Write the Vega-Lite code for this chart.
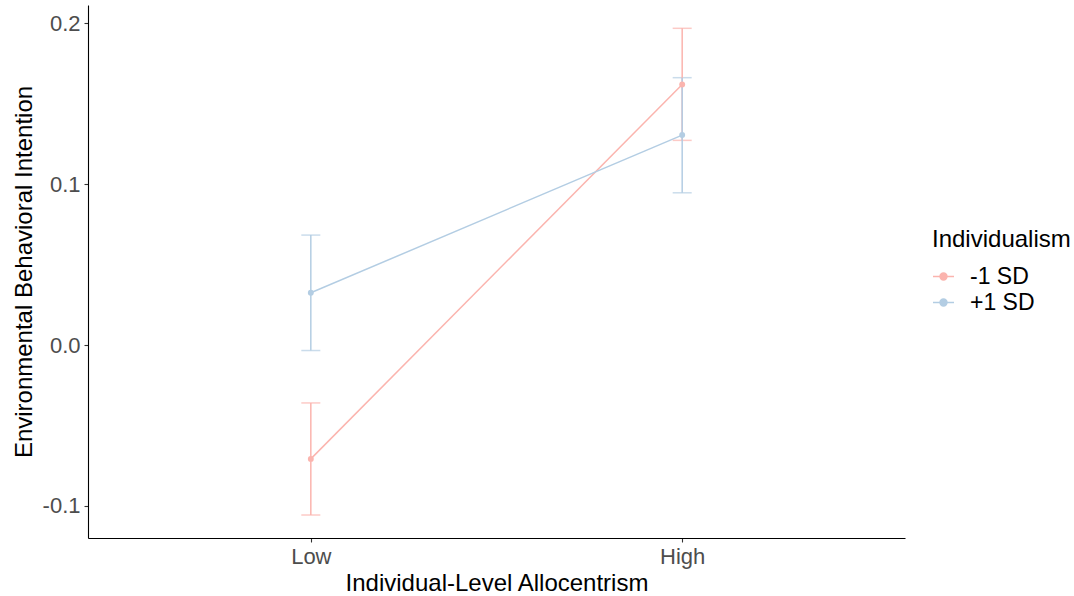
{
  "$schema": "https://vega.github.io/schema/vega-lite/v6.json",
  "width": 817,
  "height": 533,
  "autosize": {"type": "none"},
  "padding": {"left": 88, "top": 5, "right": 169, "bottom": 58},
  "background": "white",
  "config": {
    "view": {"stroke": null},
    "font": "Liberation Sans",
    "axis": {
      "grid": false,
      "domainColor": "black",
      "domainWidth": 1.1,
      "tickColor": "#333333",
      "tickWidth": 1.1,
      "tickSize": 4,
      "labelColor": "#4D4D4D",
      "labelFontSize": 22,
      "titleFontSize": 24,
      "titleFontWeight": "normal",
      "titleColor": "black",
      "labelFont": "Liberation Sans",
      "titleFont": "Liberation Sans"
    },
    "legend": {
      "titleFontSize": 24,
      "titleFontWeight": "normal",
      "titleColor": "black",
      "labelFontSize": 23,
      "labelColor": "black",
      "padding": 0
    }
  },
  "data": {
    "values": [
      {"level": "Low", "grp": "-1 SD", "mean": -0.0708, "lo": -0.1057, "hi": -0.036},
      {"level": "High", "grp": "-1 SD", "mean": 0.1621, "lo": 0.1273, "hi": 0.197},
      {"level": "Low", "grp": "+1 SD", "mean": 0.0325, "lo": -0.0034, "hi": 0.0684},
      {"level": "High", "grp": "+1 SD", "mean": 0.1306, "lo": 0.0947, "hi": 0.1663}
    ]
  },
  "encoding": {
    "x": {
      "field": "level",
      "type": "ordinal",
      "sort": ["Low", "High"],
      "scale": {"type": "point", "padding": 0.6},
      "axis": {"title": "Individual-Level Allocentrism", "labelAngle": 0, "labelPadding": 4, "titlePadding": 4}
    },
    "color": {
      "field": "grp",
      "type": "nominal",
      "sort": ["-1 SD", "+1 SD"],
      "scale": {"range": ["#FBB4AE", "#B3CDE3"]},
      "legend": {
        "title": "Individualism",
        "orient": "none",
        "legendX": 844,
        "legendY": 223,
        "symbolType": "M-1,0H1M0.33,0A0.33,0.33,0,1,1,-0.33,0A0.33,0.33,0,1,1,0.33,0Z",
        "symbolSize": 441,
        "symbolStrokeWidth": 1.5,
        "titlePadding": 13,
        "rowPadding": 2,
        "labelOffset": 15,
        "encode": {
          "symbols": {"update": {"fill": {"scale": "color", "field": "value"}, "stroke": {"scale": "color", "field": "value"}, "opacity": {"value": 1}}}
        }
      }
    }
  },
  "layer": [
    {
      "mark": {"type": "line", "strokeWidth": 1.5},
      "encoding": {
        "y": {
          "field": "mean",
          "type": "quantitative",
          "title": "Environmental Behavioral Intention",
          "scale": {"domain": [-0.12, 0.2115], "nice": false, "zero": false},
          "axis": {"values": [-0.1, 0, 0.1, 0.2], "labelExpr": "replace(format(datum.value, '.1f'), '\u2212', '-')", "labelPadding": 4, "titlePadding": 6}
        }
      }
    },
    {
      "mark": {"type": "errorbar", "thickness": 1.5, "ticks": {"size": 19, "thickness": 1.5}},
      "encoding": {
        "y": {"field": "lo", "type": "quantitative", "title": "Environmental Behavioral Intention"},
        "y2": {"field": "hi"}
      }
    },
    {
      "mark": {"type": "point", "filled": true, "size": 35, "opacity": 1},
      "encoding": {
        "y": {"field": "mean", "type": "quantitative", "title": "Environmental Behavioral Intention"}
      }
    }
  ]
}
